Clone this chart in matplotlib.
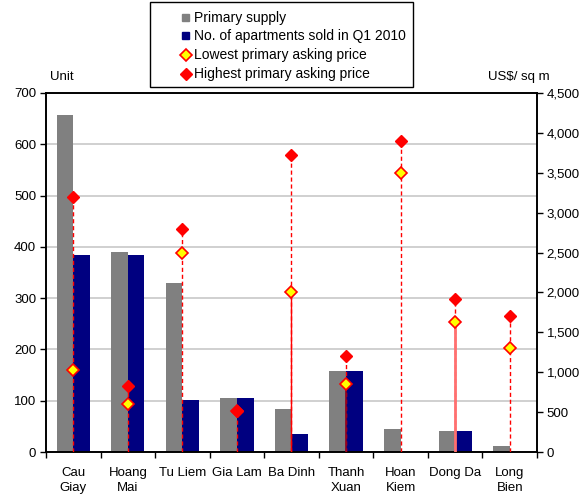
import matplotlib.pyplot as plt
import numpy as np
from matplotlib.lines import Line2D
from matplotlib.patches import Rectangle

plt.rcParams['font.family'] = ['Liberation Sans', 'DejaVu Sans']
plt.rcParams['font.size'] = 9.5

districts = ['Cau\nGiay', 'Hoang\nMai', 'Tu Liem', 'Gia Lam', 'Ba Dinh',
             'Thanh\nXuan', 'Hoan\nKiem', 'Dong Da', 'Long\nBien']
supply = [657, 390, 329, 105, 84, 158, 45, 41, 11]
sold = [384, 384, 101, 105, 35, 158, 0, 41, 0]
low_price = [1030, 600, 2500, 520, 2000, 850, 3500, 1630, 1300]
high_price = [3200, 830, 2800, 520, 3720, 1200, 3900, 1920, 1700]

x = np.arange(len(districts))
w = 0.305

fig = plt.figure(figsize=(5.82, 4.97), dpi=100)
ax = fig.add_axes([0.079, 0.0905, 0.8437, 0.7224])
ax2 = ax.twinx()

# unit bars on the left axis
ax.bar(x - w / 2, supply, w, color='#808080', zorder=2)
ax.bar(x + w / 2, sold, w, color='#000080', zorder=2)
ax.set_ylim(0, 700)
ax.set_xlim(-0.5, len(districts) - 0.5)
ax.set_yticks(range(0, 701, 100))
ax.yaxis.grid(True, color='#c8c8c8', linewidth=1.2, zorder=0)
ax.set_axisbelow(True)

# category labels in the middle, tick marks on the boundaries
ax.set_xticks(x)
ax.set_xticklabels(districts, linespacing=1.3)
ax.set_xticks(np.arange(-0.5, len(districts), 1), minor=True)
ax.tick_params(axis='x', which='major', length=0, pad=11)
ax.tick_params(axis='x', which='minor', length=4, direction='out', width=1)
ax.tick_params(axis='y', length=4, width=1, pad=3)

# price range lines on the right axis
for i in range(len(districts)):
    ax2.plot([x[i], x[i]], [0, high_price[i]], color='red', linestyle='--',
             linewidth=1, dashes=(3, 2), zorder=3)
solid = {4: ('red', 1.0), 5: ('#8b0020', 1.2), 7: ('#ff7070', 2.0)}
for i, (c, lw) in solid.items():
    ax2.plot([x[i], x[i]], [0, low_price[i]], color=c, linewidth=lw, zorder=3)
ax2.plot(x, low_price, linestyle='none', marker='D', markersize=6,
         markerfacecolor='yellow', markeredgecolor='red', markeredgewidth=1.2, zorder=4)
ax2.plot(x, high_price, linestyle='none', marker='D', markersize=6.5,
         color='red', zorder=5)
ax2.set_ylim(0, 4500)
ax2.set_yticks(range(0, 4501, 500))
ax2.set_yticklabels([f'{v:,}' for v in range(0, 4501, 500)])
ax2.tick_params(axis='y', length=4, width=1, pad=3)

for a in (ax, ax2):
    for s in a.spines.values():
        s.set_linewidth(1.2)

fig.text(0.086, 0.833, 'Unit', ha='left', va='bottom')
fig.text(0.945, 0.833, 'US$/ sq m', ha='right', va='bottom')

# legend box drawn by hand above the plot
fig.add_artist(Rectangle((0.2577, 0.825), 0.452, 0.171, transform=fig.transFigure,
                         facecolor='white', edgecolor='black', linewidth=1))
labels = ['Primary supply', 'No. of apartments sold in Q1 2010',
          'Lowest primary asking price', 'Highest primary asking price']
rows_y = [0.964, 0.928, 0.889, 0.852]
hx = 0.319
sq = 0.012
fig.add_artist(Rectangle((hx - sq / 2, rows_y[0] - sq * 582 / 497 / 2), sq, sq * 582 / 497,
                         transform=fig.transFigure, color='#808080'))
fig.add_artist(Rectangle((hx - sq / 2, rows_y[1] - sq * 582 / 497 / 2), sq, sq * 582 / 497,
                         transform=fig.transFigure, color='#000080'))
fig.add_artist(Line2D([hx], [rows_y[2]], transform=fig.transFigure, marker='D',
                      markersize=6, markerfacecolor='yellow', markeredgecolor='red',
                      markeredgewidth=1.2))
fig.add_artist(Line2D([hx], [rows_y[3]], transform=fig.transFigure, marker='D',
                      markersize=6, color='red'))
for lab, yy in zip(labels, rows_y):
    fig.text(0.334, yy, lab, ha='left', va='center', fontsize=10)

fig.savefig('out.png', dpi=100)
